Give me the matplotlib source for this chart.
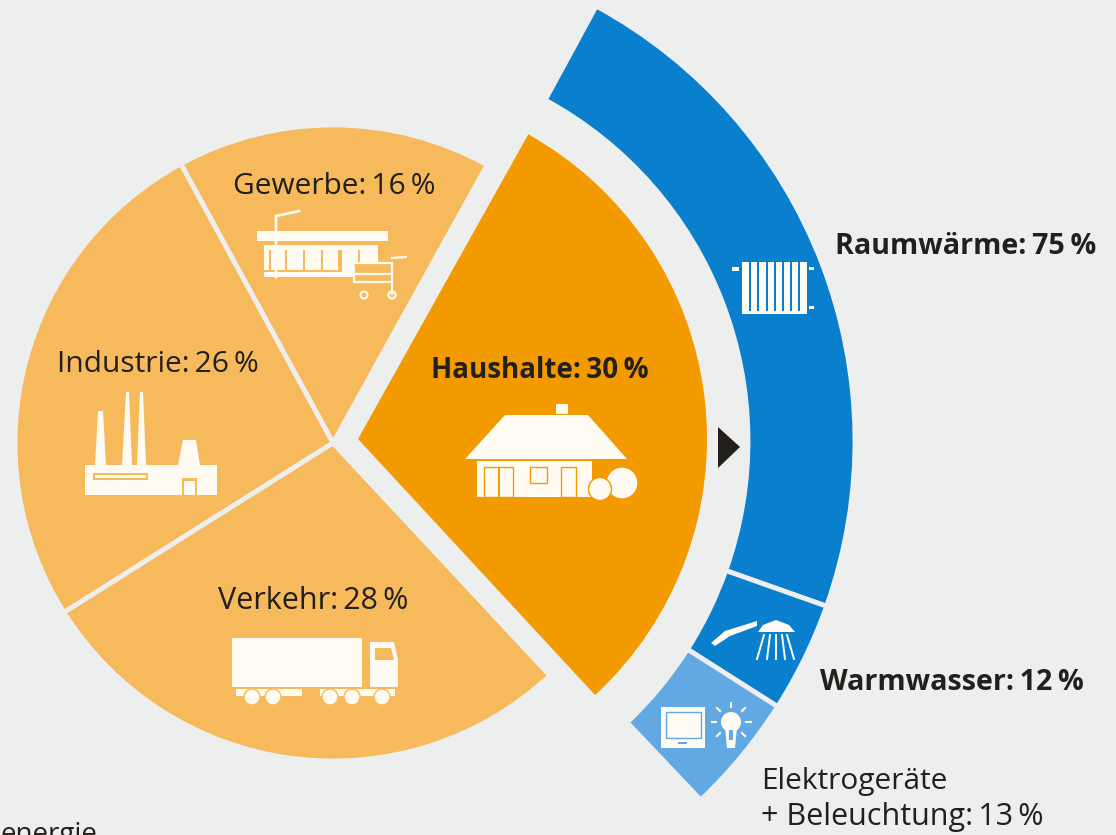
"""Endenergie nach Sektoren, Haushalte aufgeschluesselt."""

import matplotlib

matplotlib.use("Agg")
import matplotlib.pyplot as plt
from matplotlib.patches import Circle, Polygon, Rectangle, Wedge

sectors = ["Haushalte", "Gewerbe", "Industrie", "Verkehr"]
sector_shares = [30, 16, 26, 28]
household_uses = ["Raumwärme", "Warmwasser", "Elektrogeräte\n+ Beleuchtung"]
household_shares = [75, 12, 13]

BG = "#EDEEEE"
PALE = "#F6B95C"
ORANGE = "#F39A00"
BLUE = "#0A7FCE"
LIGHT_BLUE = "#62A8E2"
WHITE = "#FFFBF2"
INK = "#231F1C"

PIE_CENTER = (333, 443)
PIE_RADIUS = 318
PIE_START = 61
HOUSE_CENTER = (358, 439)
HOUSE_RADIUS = 349
HOUSE_START = 60.8
ARC_CENTER = (360, 441)
ARC_OUTER = 495
ARC_WIDTH = 107
ARC_START = 61.5
THIN = "\u2009"

plt.rcParams["font.family"] = ["Open Sans", "DejaVu Sans"]


def wedge(ax, center, radius, start, span, color, width=None, edge=None, lw=0):
    # y axis is inverted, so angles are negated to stay counterclockwise on screen
    ax.add_patch(
        Wedge(
            center, radius, -start - span, -start, width=width,
            facecolor=color, edgecolor=edge or color, linewidth=lw,
        )
    )


def box(ax, x0, y0, x1, y1, color=WHITE):
    ax.add_patch(Rectangle((x0, y0), x1 - x0, y1 - y0, facecolor=color, lw=0))


def poly(ax, points, color=WHITE):
    ax.add_patch(Polygon(points, closed=True, facecolor=color, lw=0))


def label(name, share):
    return f"{name}:{THIN}{share}{THIN}%"


def draw_shop(ax):
    box(ax, 257, 231, 388, 241)
    box(ax, 264, 245, 378, 277)
    for x0, x1 in [(269, 271), (285, 287), (303, 305), (321, 323), (338, 342), (358, 360)]:
        box(ax, x0, 250, x1, 272, PALE)
    box(ax, 264, 270, 338, 272, PALE)
    ax.plot([276, 276, 299], [277, 216, 211], color=WHITE, lw=2)
    box(ax, 354, 264, 392, 284, PALE)
    ax.plot([354, 354, 392], [266, 282, 282], color=WHITE, lw=1.6)
    ax.plot([354, 392], [274, 274], color=WHITE, lw=1.6)
    ax.plot([354, 392, 392], [263, 263, 294], color=WHITE, lw=1.6)
    ax.plot([392, 406], [258, 257], color=WHITE, lw=1.6)
    for x in (364, 392):
        ax.add_patch(Circle((x, 295), 3.5, facecolor=PALE, edgecolor=WHITE, lw=1.5))


def draw_factory(ax):
    poly(ax, [(95, 465), (98, 411), (103, 411), (106, 465)])
    poly(ax, [(122, 465), (126, 392), (129, 392), (132, 465)])
    poly(ax, [(137, 465), (140, 392), (143, 392), (146, 465)])
    poly(ax, [(178, 465), (183, 440), (196, 440), (200, 465)])
    box(ax, 85, 465, 217, 495)
    box(ax, 93, 473, 148, 480, PALE)
    box(ax, 95, 475, 146, 478)
    box(ax, 182, 478, 197, 495, PALE)
    box(ax, 184, 481, 195, 495)


def draw_truck(ax):
    box(ax, 232, 638, 362, 687)
    poly(ax, [(370, 642), (394, 642), (398, 660), (398, 687), (370, 687)])
    poly(ax, [(375, 648), (391, 648), (394, 660), (375, 660)], PALE)
    for x0, x1 in [(236, 302), (320, 395)]:
        box(ax, x0, 689, x1, 696)
    for x in (252, 273, 330, 352, 382):
        ax.add_patch(Circle((x, 697), 8, facecolor=WHITE, edgecolor=PALE, lw=1))


def draw_house(ax):
    box(ax, 556, 404, 568, 414)
    poly(ax, [(505, 415), (588, 415), (627, 459), (465, 459)])
    box(ax, 477, 461, 592, 497)
    for x, y, w, h in [(484, 467, 29, 30), (530, 467, 17, 16), (561, 467, 15, 30)]:
        ax.add_patch(Rectangle((x, y), w, h, facecolor=WHITE, edgecolor=ORANGE, lw=1))
    box(ax, 498, 467, 500, 497, ORANGE)
    ax.add_patch(Circle((622, 483), 16, facecolor=WHITE, edgecolor=ORANGE, lw=1))
    ax.add_patch(Circle((600, 489), 11.5, facecolor=WHITE, edgecolor=ORANGE, lw=1))


def draw_radiator(ax):
    box(ax, 742, 262, 807, 314)
    for i in range(1, 8):
        x = 742 + i * 8.2
        box(ax, x - 1, 262, x + 1, 311, BLUE)
    box(ax, 732, 267, 739, 271)
    box(ax, 809, 267, 814, 270)
    box(ax, 809, 306, 814, 309)


def draw_shower(ax):
    poly(ax, [(711, 643), (725, 631), (757, 621), (757, 626), (730, 636), (715, 646)])
    poly(ax, [(758, 632), (763, 625), (776, 620), (789, 625), (795, 632)])
    for x_top, x_bottom in [(764, 757), (770, 767), (776, 776), (782, 785), (787, 794)]:
        ax.plot([x_top, x_bottom], [635, 659], color=WHITE, lw=1.4)


def draw_devices(ax):
    box(ax, 661, 707, 705, 748)
    ax.add_patch(Rectangle((666, 712), 35, 26, facecolor=WHITE, edgecolor=LIGHT_BLUE, lw=1))
    box(ax, 678, 742, 687, 744, LIGHT_BLUE)
    ax.add_patch(Circle((731, 722), 10, facecolor=WHITE, lw=0))
    poly(ax, [(725, 727), (737, 727), (735, 748), (727, 748)])
    box(ax, 729, 730, 733, 740, LIGHT_BLUE)
    for x0, y0, x1, y1 in [(731, 707, 731, 703), (716, 722, 712, 722), (746, 722, 751, 722),
                           (720, 711, 717, 708), (742, 711, 745, 708), (720, 733, 717, 736),
                           (742, 733, 745, 736)]:
        ax.plot([x0, x1], [y0, y1], color=WHITE, lw=1.5)


fig = plt.figure(figsize=(11.16, 8.35), dpi=100, facecolor=BG)
ax = fig.add_axes([0, 0, 1, 1])
ax.set_xlim(0, 1116)
ax.set_ylim(835, 0)
ax.set_aspect("equal")
ax.axis("off")

# sector pie, Haushalte pushed out from the other three
angle = PIE_START
for name, share in zip(sectors, sector_shares):
    span = share * 3.6
    if name == "Haushalte":
        wedge(ax, HOUSE_CENTER, HOUSE_RADIUS, HOUSE_START - span, span, ORANGE)
        house_span = span
    else:
        wedge(ax, PIE_CENTER, PIE_RADIUS, angle, span, PALE, edge=BG, lw=3.5)
        angle += span

# breakdown arc over the same angular range as Haushalte
angle = ARC_START
for name, share in zip(household_uses, household_shares):
    span = share / 100 * house_span
    color = LIGHT_BLUE if name.startswith("Elektro") else BLUE
    wedge(ax, ARC_CENTER, ARC_OUTER, angle - span, span, color, width=ARC_WIDTH, edge=BG, lw=3.5)
    angle -= span

poly(ax, [(718, 427), (718, 468), (740, 447)], INK)

draw_shop(ax)
draw_factory(ax)
draw_truck(ax)
draw_house(ax)
draw_radiator(ax)
draw_shower(ax)
draw_devices(ax)

regular = dict(color=INK, fontsize=21.5, va="center", ha="left")
bold = dict(regular, fontweight="bold", fontsize=20.6)
elektro_top, elektro_bottom = household_uses[2].split("\n")
ax.text(233, 186, label(sectors[1], sector_shares[1]), **regular)
ax.text(57, 365, label(sectors[2], sector_shares[2]), **regular)
ax.text(218, 601, label(sectors[3], sector_shares[3]), **dict(regular, fontsize=22))
ax.text(431, 370, label(sectors[0], sector_shares[0]), **dict(bold, fontsize=20))
ax.text(835, 247, label(household_uses[0], household_shares[0]), **bold)
ax.text(820, 682, label(household_uses[1], household_shares[1]), **bold)
ax.text(761, 781, elektro_top, **regular)
ax.text(761, 817, label(elektro_bottom, household_shares[2]), **dict(regular, fontsize=22))
ax.text(0, 835, "energie", **dict(regular, fontsize=20))

fig.savefig("out.png", dpi=100, facecolor=BG)
